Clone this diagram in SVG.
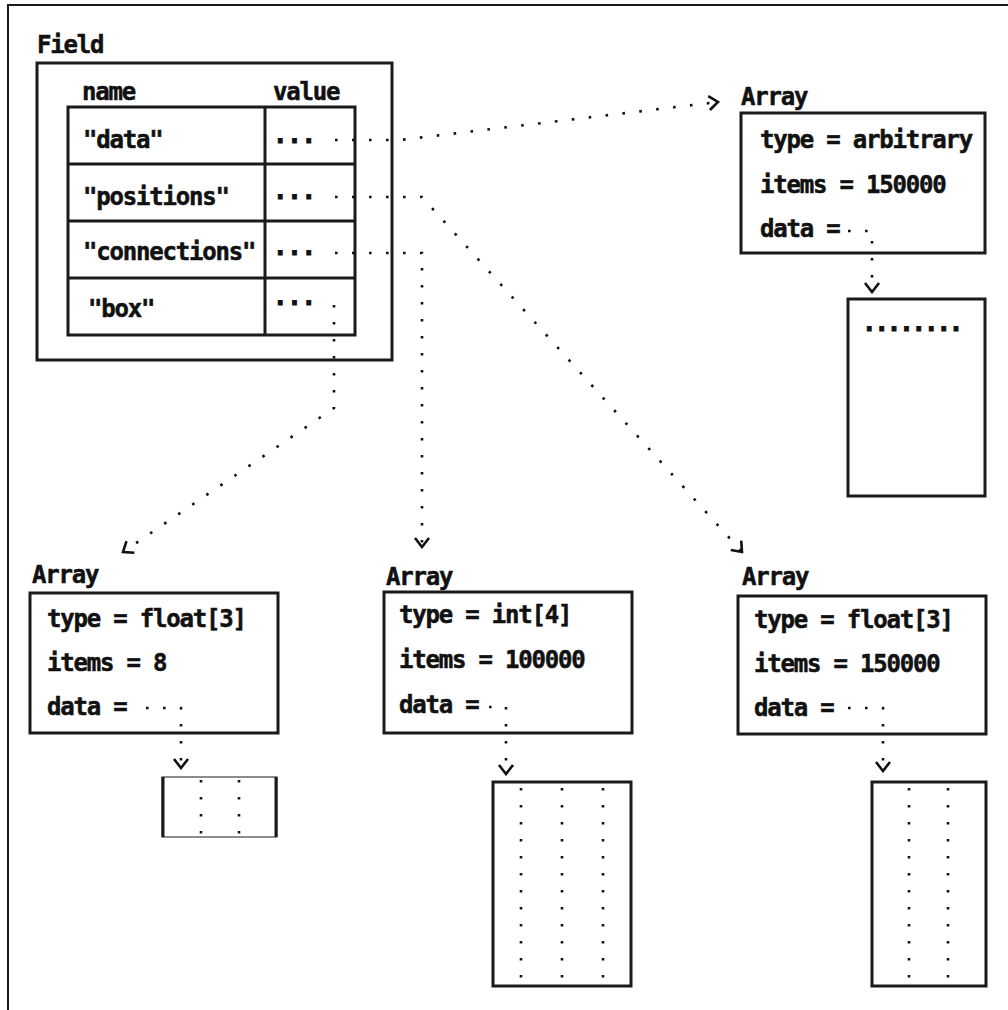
<svg xmlns="http://www.w3.org/2000/svg" width="1008" height="1010" viewBox="0 0 1008 1010">
<style>
  text { font-family: "DejaVu Sans Mono", "Liberation Mono", monospace; font-weight: bold; font-size: 24px; letter-spacing: -1.2px; fill: #111; stroke: #111; stroke-width: 0.5; }
  .box { fill: #fff; stroke: #1a1a1a; stroke-width: 3; }
  .frame { fill: none; stroke: #1a1a1a; stroke-width: 2; }
  .dot { fill: none; stroke: #111; stroke-width: 2.6; stroke-dasharray: 2.6 14.4; }
  .con { fill: none; stroke: #111; stroke-width: 2.6; stroke-dasharray: 2.6 14.4; }
  .vd { letter-spacing: -0.25px; stroke-width: 1; }
  .vd8 { letter-spacing: -2.05px; stroke-width: 1; }
</style>
<defs>
  <marker id="arr" viewBox="-12 -9 14 18" markerWidth="14" markerHeight="18" refX="0" refY="0" orient="auto" markerUnits="userSpaceOnUse">
    <path d="M-9,-7 L0,0 L-9,7" fill="none" stroke="#111" stroke-width="2.6"/>
  </marker>
</defs>
<rect width="1008" height="1010" fill="#fff"/>
<g id="frame">
  <path class="frame" d="M8,1010 L8,5 L1008,5"/>
</g>

<g id="field">
  <text x="37" y="53">Field</text>
  <rect class="box" x="37" y="63" width="355" height="297"/>
  <text x="82" y="100">name</text>
  <text x="273" y="100">value</text>
  <rect class="box" x="68" y="107" width="287" height="228"/>
  <path d="M265,107 V335 M68,164 H355 M68,221 H355 M68,278 H355" stroke="#1a1a1a" stroke-width="3" fill="none"/>
  <text x="83" y="148">"data"</text>
  <text x="83" y="205">"positions"</text>
  <text x="83" y="260">"connections"</text>
  <text x="88" y="317">"box"</text>
  <text class="vd" x="273" y="143">...</text>
  <text class="vd" x="273" y="199">...</text>
  <text class="vd" x="273" y="255">...</text>
  <text class="vd" x="273" y="305">...</text>
</g>

<g id="array-data">
  <text x="741" y="105">Array</text>
  <rect class="box" x="741" y="113" width="244" height="140"/>
  <text x="760" y="148">type = arbitrary</text>
  <text x="760" y="193">items = 150000</text>
  <text x="760" y="237">data =</text>
  <rect class="box" x="848" y="299" width="137" height="197"/>
  <text class="vd8" x="862" y="331">........</text>
</g>

<g id="array-box">
  <text x="32" y="583">Array</text>
  <rect class="box" x="30" y="593" width="248" height="140"/>
  <text x="47" y="627">type = float[3]</text>
  <text x="47" y="671">items = 8</text>
  <text x="47" y="715">data =</text>
  <rect x="162" y="777" width="115" height="60" fill="#fff" stroke="#1a1a1a" stroke-width="1"/>
  <path d="M163,777 V837 M276,777 V837" stroke="#1a1a1a" stroke-width="3"/>
  <path class="dot" d="M201,780 V837 M239,780 V837"/>
</g>

<g id="array-connections">
  <text x="386" y="585">Array</text>
  <rect class="box" x="384" y="592" width="248" height="141"/>
  <text x="399" y="623">type = int[4]</text>
  <text x="399" y="668">items = 100000</text>
  <text x="399" y="713">data =</text>
  <rect class="box" x="493" y="782" width="138" height="204"/>
  <path class="dot" d="M521,788 V982 M562,788 V982 M603,788 V982"/>
</g>

<g id="array-positions">
  <text x="742" y="585">Array</text>
  <rect class="box" x="738" y="596" width="248" height="138"/>
  <text x="754" y="628">type = float[3]</text>
  <text x="754" y="672">items = 150000</text>
  <text x="754" y="716">data =</text>
  <rect class="box" x="872" y="782" width="114" height="204"/>
  <path class="dot" d="M909,788 V982 M948,788 V982"/>
</g>

<g id="connectors">
  <path class="con" d="M335,140 L400,140 L718,102" marker-end="url(#arr)"/>
  <path class="con" d="M335,197 L422,197 L742,552" marker-end="url(#arr)"/>
  <path class="con" d="M335,253 L422,253 L422,547" marker-end="url(#arr)"/>
  <path class="con" d="M334,305 L334,408 L123,552" marker-end="url(#arr)"/>
  <path class="con" d="M848,231 L872,231 L872,292" marker-end="url(#arr)"/>
  <path class="con" d="M146,708 L181,708 L181,768" marker-end="url(#arr)"/>
  <path class="con" d="M489,707 L506,707 L506,774" marker-end="url(#arr)"/>
  <path class="con" d="M848,708 L883,708 L883,771" marker-end="url(#arr)"/>
</g>
</svg>
